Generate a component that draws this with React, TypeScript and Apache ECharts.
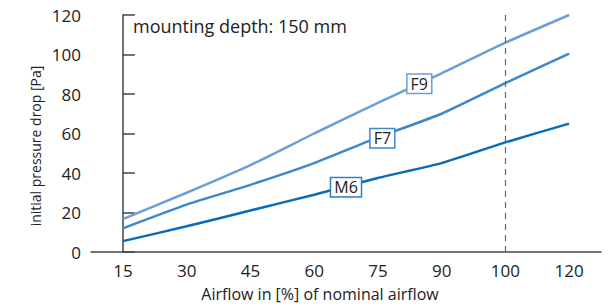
import React, { useEffect, useRef } from "react";
import * as echarts from "echarts";

const categories = ["15", "30", "45", "60", "75", "90", "100", "120"];
const f9 = [16.6, 30, 44, 60, 75.5, 90.5, 106, 120];
const f7 = [12, 24, 34, 45, 58, 70, 85.5, 100.5];
const m6 = [5.5, 13, 21, 29, 37.5, 45, 55.5, 65];
const yTicks = [0, 20, 40, 60, 80, 100, 120];
const curveLabels = ["F9", "F7", "M6"];
// label anchor positions in category-index units and y values
const labelPos: [number, number][] = [
  [4.65, 85.2],
  [4.07, 57.6],
  [3.5, 32.8],
];
const labelBorders = ["#6a9fd8", "#3d88cd", "#2a7fc6"];

const FONT = "'Open Sans', 'Noto Sans', sans-serif";
const TXT = "#222222";

export default function App() {
  const ref = useRef<HTMLDivElement>(null);
  useEffect(() => {
    document.body.style.margin = "0";
    const chart = echarts.init(ref.current!, null, { renderer: "svg" });
    const mkSeries = (name: string, data: number[], color: string) => ({
      name,
      type: "line",
      data,
      smooth: 0.15,
      symbol: "none",
      lineStyle: { color, width: 2.5 },
      z: 3,
    });
    chart.setOption({
      animation: false,
      textStyle: { fontFamily: FONT },
      grid: { left: 91, right: 11, top: 15, bottom: 51 },
      title: {
        text: "mounting depth: 150 mm",
        left: 128,
        top: 12,
        textStyle: { fontSize: 18, fontWeight: "normal", color: TXT, fontFamily: FONT },
      },
      graphic: [
        {
          type: "text",
          x: 35,
          y: 146,
          rotation: Math.PI / 2,
          style: {
            text: "initial pressure drop [Pa]",
            fontSize: 14,
            fontFamily: FONT,
            fill: TXT,
            textAlign: "center",
            textVerticalAlign: "middle",
          },
        },
      ],
      xAxis: [
        {
          type: "category",
          data: categories,
          boundaryGap: true,
          name: "Airflow in [%] of nominal airflow",
          nameLocation: "middle",
          nameGap: 34,
          nameTextStyle: { fontSize: 16, color: TXT, fontFamily: FONT, padding: [0, 52, 0, 0] },
          axisLine: { lineStyle: { color: "#444", width: 1.5 } },
          axisTick: { inside: true, length: 7, alignWithLabel: true, lineStyle: { color: "#444", width: 1.5 } },
          axisLabel: { fontSize: 17, color: TXT, fontFamily: FONT, margin: 10 },
          splitLine: { show: false },
        },
        { type: "value", min: -0.5, max: 7.5, show: false },
      ],
      yAxis: {
        type: "value",
        min: 0,
        max: 120,
        interval: 20,
        axisLine: { show: true, lineStyle: { color: "#444", width: 1.5 } },
        axisTick: { show: true, inside: true, length: 12, lineStyle: { color: "#444", width: 1.5 } },
        axisLabel: {
          fontSize: 17,
          color: TXT,
          fontFamily: FONT,
          margin: 10,
          formatter: (v: number) => (yTicks.includes(v) ? String(v) : ""),
        },
        splitLine: { show: false },
      },
      series: [
        {
          ...mkSeries("F9", f9, "#6a9fd8"),
          markLine: {
            silent: true,
            symbol: "none",
            label: { show: false },
            lineStyle: { color: "#666", type: [6, 5], width: 1.2 },
            data: [{ xAxis: "100" }],
          },
        },
        mkSeries("F7", f7, "#3d88cd"),
        mkSeries("M6", m6, "#0a6cb9"),
        {
          type: "scatter",
          xAxisIndex: 1,
          symbolSize: 0,
          z: 10,
          silent: true,
          itemStyle: { opacity: 1 },
          data: curveLabels.map((n, i) => ({
            value: labelPos[i],
            itemStyle: { opacity: 1 },
            label: {
              show: true,
              position: "inside",
              formatter: n,
              color: TXT,
              opacity: 1,
              fontFamily: FONT,
              fontSize: 16,
              backgroundColor: "#fff",
              borderColor: labelBorders[i],
              borderWidth: 1.5,
              padding: [1, 3, 0, 3],
              lineHeight: 17,
            },
          })),
        },
      ],
    });
    return () => chart.dispose();
  }, []);
  return <div ref={ref} style={{ width: 612, height: 307 }} />;
}
